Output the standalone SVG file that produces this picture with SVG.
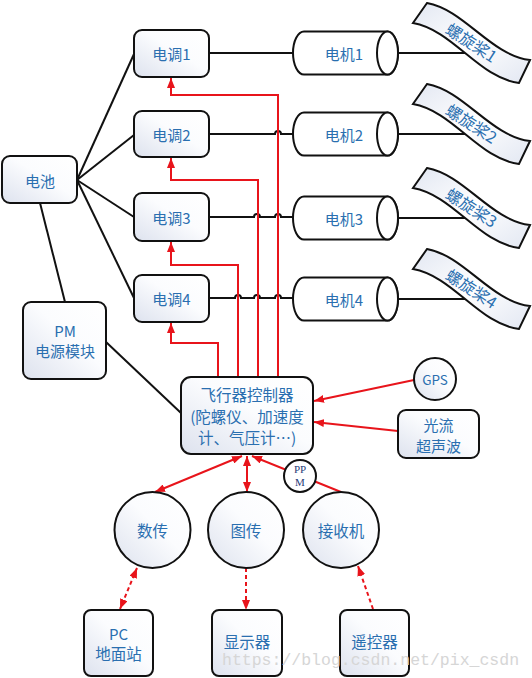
<svg xmlns="http://www.w3.org/2000/svg" width="532" height="678" viewBox="0 0 532 678">
<defs>
<linearGradient id="g" x1="1" y1="0" x2="0" y2="1">
<stop offset="0" stop-color="#ffffff"/>
<stop offset="0.45" stop-color="#fbfcfe"/>
<stop offset="1" stop-color="#dde2ee"/>
</linearGradient>
<linearGradient id="gp" x1="0" y1="0" x2="1" y2="1">
<stop offset="0" stop-color="#e2e7f2"/>
<stop offset="0.5" stop-color="#ffffff"/>
<stop offset="1" stop-color="#e2e7f2"/>
</linearGradient>
<marker id="ar" viewBox="0 0 10 8" refX="10" refY="4" markerWidth="10" markerHeight="8" markerUnits="userSpaceOnUse" orient="auto-start-reverse">
<path d="M0,0 L10,4 L0,8 Z" fill="#e8141b"/>
</marker>
</defs>
<style>
.box{fill:url(#g);stroke:#111;stroke-width:2}
.cyl{fill:#fff;stroke:#111;stroke-width:2}
.prop{fill:url(#gp);stroke:#111;stroke-width:2}
.bl{fill:none;stroke:#111;stroke-width:2}
.rd{fill:none;stroke:#e8141b;stroke-width:2}
.ds{fill:none;stroke:#e8141b;stroke-width:2;stroke-dasharray:4,3}
.t{font-family:"Noto Sans CJK SC","Noto Sans",sans-serif;font-size:15px;fill:#2a6fb0;text-anchor:middle;dominant-baseline:central}
.t16{font-size:15.5px}
.ppm{font-family:"Liberation Serif",serif;font-size:11px;fill:#1f3d78;text-anchor:middle;dominant-baseline:central}
.wm{font-family:"Liberation Mono",monospace;font-size:16.5px;fill:#d6d6d6}
</style>

<g id="connectors">
<path class="bl" d="M77,180 L134,54"/>
<path class="bl" d="M77,180 L134,135"/>
<path class="bl" d="M77,180 L134,217"/>
<path class="bl" d="M77,180 L134,298"/>
<path class="bl" d="M40,203 L65,302"/>
<path class="bl" d="M106,342 L181,413"/>
<path class="bl" d="M209,53 H293"/>
<path class="bl" d="M209,134 H275 a3,3 0 0 1 6,0 H293"/>
<path class="bl" d="M209,217 H254 a3,3 0 0 1 6,0 H275 a3,3 0 0 1 6,0 H293"/>
<path class="bl" d="M209,298 H235 a3,3 0 0 1 6,0 H254 a3,3 0 0 1 6,0 H275 a3,3 0 0 1 6,0 H293"/>
<path class="bl" d="M398,53 H467"/>
<path class="bl" d="M398,134 H467"/>
<path class="bl" d="M398,218 H467"/>
<path class="bl" d="M398,299 H467"/>
<path class="rd" d="M278,378 V95 H171 V78" marker-end="url(#ar)"/>
<path class="rd" d="M258,378 V180 H171 V158" marker-end="url(#ar)"/>
<path class="rd" d="M238,378 V265 H171 V242" marker-end="url(#ar)"/>
<path class="rd" d="M218,378 V343 H171 V323" marker-end="url(#ar)"/>
<path class="rd" d="M414,380 L314,401" marker-end="url(#ar)"/>
<path class="rd" d="M398,431 L314,422" marker-end="url(#ar)"/>
<path class="rd" d="M242,456 L155,492" marker-start="url(#ar)" marker-end="url(#ar)"/>
<path class="rd" d="M247,456 V492" marker-start="url(#ar)" marker-end="url(#ar)"/>
<path class="rd" d="M341,492 L252,456" marker-end="url(#ar)"/>
<path class="ds" d="M137,568 L120,609" marker-start="url(#ar)" marker-end="url(#ar)"/>
<path class="ds" d="M246,568 V610" marker-end="url(#ar)"/>
<path class="ds" d="M373,609 L358,566" marker-end="url(#ar)"/>
</g>

<g id="battery"><rect class="box" x="2" y="156" width="75" height="47" rx="8"/><text class="t" x="40" y="180">电池</text></g>
<g id="pm"><rect class="box" x="23" y="302" width="83" height="77" rx="8"/><text class="t" x="65" y="330">PM</text><text class="t" x="65" y="350">电源模块</text></g>

<g id="esc1"><rect class="box" x="134" y="30" width="75" height="47" rx="8"/><text class="t" x="171.5" y="53">电调1</text></g>
<g id="esc2"><rect class="box" x="134" y="111" width="75" height="46" rx="8"/><text class="t" x="171.5" y="134">电调2</text></g>
<g id="esc3"><rect class="box" x="134" y="193" width="75" height="48" rx="8"/><text class="t" x="171.5" y="217">电调3</text></g>
<g id="esc4"><rect class="box" x="134" y="275" width="75" height="47" rx="8"/><text class="t" x="171.5" y="298">电调4</text></g>

<g id="motor1"><path class="cyl" d="M304,31.5 H387.5 A10.5,21.5 0 0 1 387.5,74.5 H304 A11,21.5 0 0 1 304,31.5 Z"/><ellipse class="cyl" cx="387.5" cy="53" rx="10.5" ry="21.5"/><text class="t" x="344" y="53">电机1</text></g>
<g id="motor2"><path class="cyl" d="M304,112.5 H387.5 A10.5,21.5 0 0 1 387.5,155.5 H304 A11,21.5 0 0 1 304,112.5 Z"/><ellipse class="cyl" cx="387.5" cy="134" rx="10.5" ry="21.5"/><text class="t" x="344" y="134">电机2</text></g>
<g id="motor3"><path class="cyl" d="M304,196.5 H387.5 A10.5,21.5 0 0 1 387.5,239.5 H304 A11,21.5 0 0 1 304,196.5 Z"/><ellipse class="cyl" cx="387.5" cy="218" rx="10.5" ry="21.5"/><text class="t" x="344" y="218">电机3</text></g>
<g id="motor4"><path class="cyl" d="M304,277.5 H387.5 A10.5,21.5 0 0 1 387.5,320.5 H304 A11,21.5 0 0 1 304,277.5 Z"/><ellipse class="cyl" cx="387.5" cy="299" rx="10.5" ry="21.5"/><text class="t" x="344" y="299">电机4</text></g>

<g id="prop1"><path class="prop" d="M427,3 C465,10 490,55 530,60 L519,83 C479,78 453,30 413,23 Z"/><text class="t" style="font-size:16px" transform="translate(472,42) rotate(33)">螺旋桨1</text></g>
<g id="prop2" transform="translate(0,81)"><path class="prop" d="M427,3 C465,10 490,55 530,60 L519,83 C479,78 453,30 413,23 Z"/><text class="t" style="font-size:16px" transform="translate(472,42) rotate(33)">螺旋桨2</text></g>
<g id="prop3" transform="translate(0,165)"><path class="prop" d="M427,3 C465,10 490,55 530,60 L519,83 C479,78 453,30 413,23 Z"/><text class="t" style="font-size:16px" transform="translate(472,42) rotate(33)">螺旋桨3</text></g>
<g id="prop4" transform="translate(0,246)"><path class="prop" d="M427,3 C465,10 490,55 530,60 L519,83 C479,78 453,30 413,23 Z"/><text class="t" style="font-size:16px" transform="translate(472,42) rotate(33)">螺旋桨4</text></g>

<g id="controller"><rect class="box" x="181" y="377" width="132" height="77" rx="10"/><text class="t t16" x="247" y="394">飞行器控制器</text><text class="t t16" x="247" y="415.5">(陀螺仪、加速度</text><text class="t t16" x="247" y="437">计、气压计…)</text></g>

<g id="gps"><circle class="box" cx="435" cy="379" r="21"/><text class="t" style="font-size:13.5px" x="435" y="379">GPS</text></g>
<g id="flow"><rect class="box" x="398" y="410" width="81" height="48" rx="8"/><text class="t" x="438.5" y="424">光流</text><text class="t" x="438.5" y="445">超声波</text></g>

<g id="ppm"><circle cx="300" cy="476" r="16" fill="#fff" stroke="#111" stroke-width="2"/><text class="ppm" x="300" y="469">PP</text><text class="ppm" x="300" y="482">M</text></g>

<g id="datalink"><circle class="box" cx="152.5" cy="530" r="38"/><text class="t t16" x="152.5" y="530">数传</text></g>
<g id="videolink"><circle class="box" cx="246" cy="530" r="38"/><text class="t t16" x="246" y="530">图传</text></g>
<g id="receiver"><circle class="box" cx="341" cy="530" r="38"/><text class="t t16" x="341" y="530">接收机</text></g>

<g id="pc"><rect class="box" x="84" y="610" width="69" height="66" rx="7"/><text class="t" x="118.5" y="633">PC</text><text class="t t16" x="118.5" y="653">地面站</text></g>
<g id="display"><rect class="box" x="212" y="610" width="70" height="66" rx="7"/><text class="t t16" x="247" y="641">显示器</text></g>
<g id="remote"><rect class="box" x="340" y="610" width="69" height="66" rx="7"/><text class="t t16" x="374.5" y="641">遥控器</text></g>

<text class="wm" x="222" y="665">https://blog.csdn.net/pix_csdn</text>
</svg>
